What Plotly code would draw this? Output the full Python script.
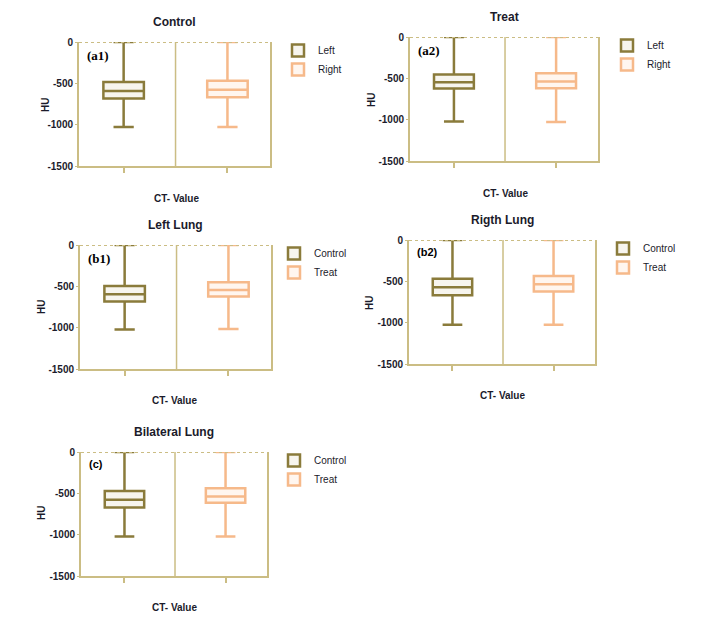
"""CT value (HU) box plots: Control / Treat / Left / Right / Bilateral lung."""

import plotly.graph_objects as go

# ---- data ----
panel_titles = ["Control", "Treat", "Left Lung", "Rigth Lung", "Bilateral Lung"]
panel_tags = ["(a1)", "(a2)", "(b1)", "(b2)", "(c)"]
first_names = ["Left", "Left", "Control", "Control", "Control"]
second_names = ["Right", "Right", "Treat", "Treat", "Treat"]

first_lower = [-1027, -1023, -1021, -1025, -1023]
first_q1 = [-683, -623, -684, -667, -671]
first_median = [-594, -546, -595, -571, -578]
first_q3 = [-485, -453, -495, -470, -473]
first_upper = [0, 0, 0, 0, 0]

second_lower = [-1027, -1027, -1017, -1025, -1023]
second_q1 = [-667, -619, -623, -623, -615]
second_median = [-578, -538, -543, -535, -538]
second_q3 = [-469, -437, -450, -434, -437]
second_upper = [0, 0, 0, 0, 0]

y_ticks = [0, -500, -1000, -1500]

# ---- styling / layout ----
W, H = 711, 621
PAD = 8  # default body margin of the html page
FW, FH = W - 2 * PAD, H - 2 * PAD
OLIVE = "#8a7b3b"
ORANGE = "#f6b98a"
AXIS = "#cbbd84"
TEXT = "#1b1b2b"

# plot areas in page pixels: (left, right, top, bottom)
boxes_px = [
    (79, 270, 42, 166),
    (410, 598, 37, 161),
    (80, 271, 245, 369),
    (409, 595, 240, 364),
    (81, 267, 452, 576),
]
legend_px = [(278, 36), (607, 31), (274, 239), (603, 234), (274, 446)]
hu_px = [(45, 105), (372, 100), (42, 307), (370, 303), (41, 513)]
ct_px = [(176, 198), (505, 193), (174, 400), (502, 395), (174, 607)]
tag_serif = [True, True, True, False, False]


def px_x(v):
    return (v - PAD) / FW


def px_y(v):
    return 1 - (v - PAD) / FH


fig = go.Figure()

for i in range(5):
    ax = "" if i == 0 else str(i + 1)
    leg = "legend" if i == 0 else f"legend{i + 1}"
    specs = [
        (0, first_names[i], OLIVE, "#f7f5ee",
         first_lower[i], first_q1[i], first_median[i], first_q3[i], first_upper[i]),
        (1, second_names[i], ORANGE, "#fff6ef",
         second_lower[i], second_q1[i], second_median[i], second_q3[i], second_upper[i]),
    ]
    for xpos, name, col, fill, lf, q1, med, q3, uf in specs:
        fig.add_trace(
            go.Box(
                x=[xpos],
                lowerfence=[lf],
                q1=[q1],
                median=[med],
                q3=[q3],
                upperfence=[uf],
                name=name,
                width=0.39,
                whiskerwidth=0.5,
                line=dict(color=col, width=2.5),
                fillcolor=fill,
                boxpoints=False,
                hoverinfo="skip",
                xaxis="x" + ax,
                yaxis="y" + ax,
                legend=leg,
            )
        )

    l, r, t, b = boxes_px[i]
    fig.update_layout(
        {
            "xaxis" + ax: dict(
                domain=[px_x(l), px_x(r)],
                anchor="y" + ax,
                range=[-0.43, 1.41],
                automargin=False,
                showline=True,
                linecolor=AXIS,
                linewidth=2,
                tickvals=[0, 1],
                ticktext=["", ""],
                ticks="outside",
                ticklen=5,
                tickwidth=1.5,
                tickcolor=AXIS,
                showgrid=False,
                zeroline=False,
                fixedrange=True,
            ),
            "yaxis" + ax: dict(
                domain=[px_y(b), px_y(t)],
                anchor="x" + ax,
                range=[-1500, 0],
                automargin=False,
                tickvals=y_ticks,
                ticktext=[f"<b>{v}</b>" for v in y_ticks],
                tickfont=dict(size=10, color=TEXT),
                showline=True,
                mirror=True,
                linecolor=AXIS,
                linewidth=2,
                ticks="outside",
                ticklen=2,
                tickcolor=AXIS,
                showgrid=False,
                zeroline=False,
                fixedrange=True,
            ),
            leg: dict(
                x=px_x(legend_px[i][0]),
                y=px_y(legend_px[i][1]),
                xanchor="left",
                yanchor="top",
                bgcolor="rgba(0,0,0,0)",
                font=dict(size=10, color=TEXT),
                itemwidth=30,
                tracegroupgap=0,
            ),
        }
    )

    # dotted top border at 0 and the divider between the two groups
    fig.add_shape(
        type="line", xref="x" + ax + " domain", yref="y" + ax,
        x0=0, x1=1, y0=0, y1=0,
        line=dict(color=AXIS, width=2, dash="dot"),
    )
    fig.add_shape(
        type="line", xref="x" + ax, yref="y" + ax + " domain",
        x0=0.5, x1=0.5, y0=0, y1=1,
        line=dict(color=AXIS, width=1.5),
        layer="below",
    )

    # panel title
    fig.add_annotation(
        x=px_x((l + r) / 2), y=px_y(t - 11), xref="paper", yref="paper",
        text=f"<b>{panel_titles[i]}</b>", showarrow=False,
        font=dict(size=12, color=TEXT, family="Arial"),
        xanchor="center", yanchor="bottom",
    )
    # axis titles
    fig.add_annotation(
        x=px_x(hu_px[i][0]), y=px_y(hu_px[i][1]), xref="paper", yref="paper",
        text="<b>HU</b>", showarrow=False, textangle=-90,
        xanchor="center", yanchor="middle",
        font=dict(size=10, color=TEXT),
    )
    fig.add_annotation(
        x=px_x(ct_px[i][0]), y=px_y(ct_px[i][1]), xref="paper", yref="paper",
        text="<b>CT- Value</b>", showarrow=False,
        xanchor="center", yanchor="middle",
        font=dict(size=10, color=TEXT),
    )
    # panel tag
    fig.add_annotation(
        x=0.03, y=0.97, xref="x" + ax + " domain", yref="y" + ax + " domain",
        text=f"<b>{panel_tags[i]}</b>", showarrow=False,
        xanchor="left", yanchor="top",
        font=dict(
            size=13 if tag_serif[i] else 11,
            color="#000000",
            family="Liberation Serif" if tag_serif[i] else "Arial",
        ),
    )

fig.update_layout(
    width=FW,
    height=FH,
    margin=dict(l=0, r=0, t=0, b=0),
    paper_bgcolor="white",
    plot_bgcolor="white",
    font=dict(family="Arial", color=TEXT),
    showlegend=True,
    boxmode="overlay",
)

fig.write_html("out.html")
